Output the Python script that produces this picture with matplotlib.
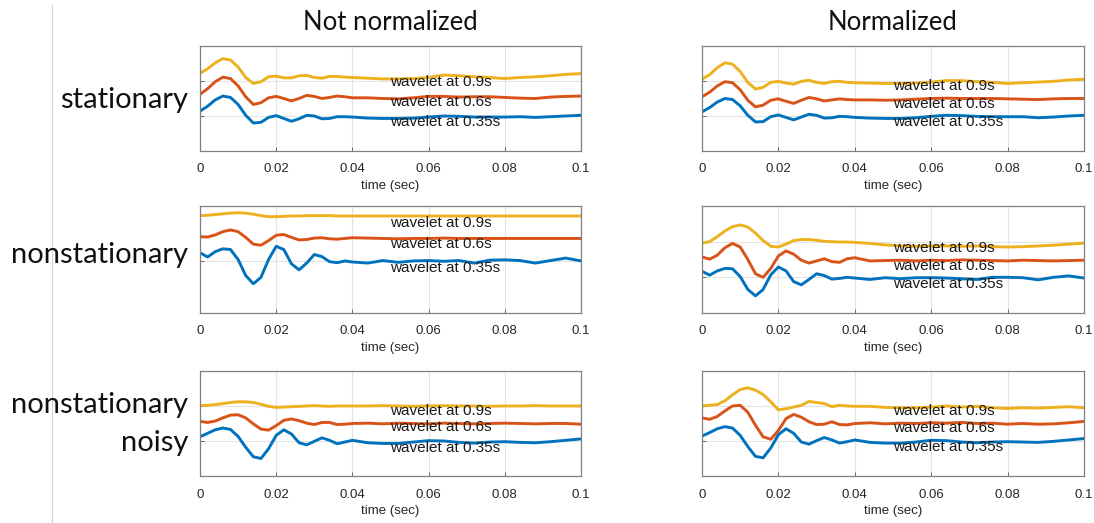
import numpy as np
import matplotlib
matplotlib.use("Agg")
import matplotlib.pyplot as plt
from matplotlib.lines import Line2D

# sample times (sec): fine steps over the main pulse, coarser over the tail
t = np.round(np.concatenate([np.arange(0, 0.0401, 0.002), np.arange(0.044, 0.1001, 0.004)]), 3)

# stationary, not normalized
stat_raw_09 = [2.22, 2.35, 2.52, 2.64, 2.60, 2.40, 2.10, 1.93, 1.98, 2.12, 2.14, 2.09, 2.09, 2.15, 2.16, 2.10, 2.08, 2.13, 2.13, 2.11, 2.10,
               2.08, 2.06, 2.06, 2.07, 2.10, 2.17, 2.15, 2.12, 2.10, 2.07, 2.10, 2.12, 2.15, 2.19, 2.21]
stat_raw_06 = [1.62, 1.78, 1.98, 2.11, 2.07, 1.86, 1.55, 1.33, 1.38, 1.52, 1.56, 1.50, 1.43, 1.50, 1.59, 1.56, 1.50, 1.53, 1.57, 1.55, 1.52,
               1.52, 1.50, 1.49, 1.52, 1.56, 1.56, 1.54, 1.55, 1.55, 1.53, 1.51, 1.50, 1.54, 1.56, 1.57]
stat_raw_035 = [1.14, 1.28, 1.46, 1.57, 1.53, 1.33, 1.02, 0.80, 0.82, 0.96, 1.01, 0.93, 0.85, 0.92, 1.02, 1.00, 0.92, 0.93, 0.98, 0.98, 0.97,
                0.94, 0.93, 0.93, 0.94, 0.97, 1.00, 0.99, 0.97, 0.97, 0.97, 0.98, 0.96, 0.98, 1.00, 1.02]

# stationary, normalized
stat_norm_09 = [2.05, 2.18, 2.38, 2.52, 2.48, 2.27, 1.96, 1.77, 1.82, 1.96, 1.99, 1.94, 1.91, 1.99, 2.02, 1.96, 1.93, 1.98, 1.99, 1.96, 1.95,
                1.94, 1.93, 1.93, 1.94, 1.97, 2.01, 2.01, 1.98, 1.96, 1.93, 1.95, 1.97, 1.99, 2.03, 2.05]
stat_norm_06 = [1.55, 1.68, 1.86, 1.98, 1.95, 1.75, 1.45, 1.26, 1.31, 1.45, 1.49, 1.42, 1.36, 1.45, 1.53, 1.49, 1.43, 1.46, 1.49, 1.47, 1.46,
                1.46, 1.45, 1.46, 1.48, 1.50, 1.51, 1.50, 1.50, 1.50, 1.49, 1.48, 1.47, 1.49, 1.50, 1.50]
stat_norm_035 = [1.12, 1.24, 1.40, 1.50, 1.47, 1.29, 1.02, 0.83, 0.84, 0.98, 1.03, 0.96, 0.89, 0.97, 1.05, 1.02, 0.94, 0.95, 0.99, 0.98, 0.96,
                 0.94, 0.93, 0.93, 0.95, 0.99, 1.02, 1.01, 0.99, 0.98, 0.98, 0.98, 0.95, 0.97, 1.00, 1.02]

# nonstationary, not normalized
nonst_raw_09 = [2.73, 2.74, 2.76, 2.78, 2.80, 2.81, 2.80, 2.77, 2.73, 2.70, 2.70, 2.71, 2.72, 2.72, 2.73, 2.73, 2.73, 2.73, 2.72, 2.72, 2.72,
                2.72, 2.72, 2.72, 2.72, 2.72, 2.72, 2.72, 2.72, 2.72, 2.72, 2.72, 2.72, 2.72, 2.72, 2.72]
nonst_raw_06 = [2.14, 2.13, 2.19, 2.28, 2.33, 2.28, 2.12, 1.93, 1.90, 2.03, 2.18, 2.20, 2.12, 2.05, 2.06, 2.10, 2.11, 2.08, 2.07, 2.09, 2.11,
                2.10, 2.09, 2.08, 2.09, 2.09, 2.10, 2.09, 2.09, 2.09, 2.09, 2.09, 2.09, 2.09, 2.09, 2.09]
nonst_raw_035 = [1.69, 1.57, 1.72, 1.80, 1.78, 1.50, 1.05, 0.82, 1.00, 1.50, 1.87, 1.78, 1.38, 1.21, 1.40, 1.64, 1.58, 1.44, 1.41, 1.46, 1.43,
                 1.40, 1.47, 1.42, 1.46, 1.47, 1.45, 1.47, 1.40, 1.48, 1.49, 1.47, 1.40, 1.47, 1.54, 1.46]

# nonstationary, normalized
nonst_norm_09 = [1.96, 2.00, 2.14, 2.30, 2.42, 2.47, 2.41, 2.24, 2.03, 1.87, 1.85, 1.93, 2.03, 2.06, 2.06, 2.04, 2.01, 2.00, 1.99, 1.99, 1.98,
                 1.95, 1.91, 1.88, 1.87, 1.88, 1.88, 1.87, 1.88, 1.86, 1.85, 1.86, 1.88, 1.90, 1.93, 1.96]
nonst_norm_06 = [1.57, 1.51, 1.62, 1.83, 1.95, 1.85, 1.50, 1.10, 1.00, 1.25, 1.60, 1.74, 1.65, 1.48, 1.40, 1.46, 1.52, 1.44, 1.42, 1.52, 1.55,
                 1.46, 1.47, 1.48, 1.46, 1.48, 1.47, 1.49, 1.48, 1.47, 1.46, 1.48, 1.47, 1.46, 1.47, 1.48]
nonst_norm_035 = [1.17, 1.06, 1.18, 1.25, 1.24, 1.02, 0.66, 0.48, 0.66, 1.07, 1.29, 1.18, 0.88, 0.79, 0.94, 1.10, 1.05, 0.95, 0.97, 1.00, 0.98,
                  0.94, 0.99, 0.96, 0.99, 0.99, 0.98, 0.96, 0.94, 1.00, 1.00, 0.99, 0.93, 1.00, 1.04, 0.98]

# nonstationary + noise, not normalized
noisy_raw_09 = [2.01, 2.02, 2.04, 2.07, 2.10, 2.12, 2.12, 2.10, 2.05, 1.99, 1.96, 1.97, 1.98, 1.99, 2.00, 2.01, 2.00, 1.99, 2.00, 2.00, 2.00,
                2.00, 2.01, 2.00, 1.99, 2.00, 2.01, 2.00, 2.00, 1.99, 2.00, 2.00, 2.01, 2.00, 2.00, 2.00]
noisy_raw_06 = [1.56, 1.53, 1.57, 1.66, 1.74, 1.75, 1.66, 1.49, 1.34, 1.31, 1.44, 1.59, 1.63, 1.58, 1.51, 1.47, 1.53, 1.53, 1.47, 1.48, 1.50,
                1.51, 1.49, 1.51, 1.50, 1.49, 1.51, 1.50, 1.49, 1.50, 1.51, 1.50, 1.49, 1.50, 1.50, 1.48]
noisy_raw_035 = [1.12, 1.22, 1.32, 1.37, 1.33, 1.13, 0.82, 0.55, 0.50, 0.78, 1.16, 1.32, 1.20, 0.95, 0.89, 0.99, 1.09, 1.02, 0.92, 0.97, 1.02,
                 0.95, 0.93, 0.93, 0.97, 1.01, 1.00, 0.96, 0.94, 0.97, 0.98, 0.96, 0.95, 0.98, 1.02, 1.06]

# nonstationary + noise, normalized
noisy_norm_09 = [2.00, 2.02, 2.04, 2.15, 2.32, 2.47, 2.52, 2.45, 2.33, 2.12, 1.89, 1.92, 1.97, 2.02, 2.13, 2.10, 2.07, 1.98, 2.02, 2.00, 1.99,
                 1.99, 1.96, 1.95, 1.95, 1.97, 2.00, 1.97, 1.99, 1.95, 1.93, 1.95, 1.94, 1.96, 1.98, 1.95]
noisy_norm_06 = [1.66, 1.62, 1.70, 1.86, 2.00, 2.02, 1.82, 1.45, 1.12, 1.05, 1.30, 1.64, 1.76, 1.68, 1.55, 1.47, 1.48, 1.55, 1.47, 1.46, 1.50,
                 1.52, 1.49, 1.51, 1.50, 1.52, 1.51, 1.53, 1.50, 1.51, 1.48, 1.50, 1.48, 1.49, 1.52, 1.56]
noisy_norm_035 = [1.14, 1.24, 1.35, 1.41, 1.37, 1.16, 0.84, 0.56, 0.52, 0.80, 1.18, 1.35, 1.22, 0.97, 0.91, 1.01, 1.10, 1.03, 0.94, 0.98, 1.03,
                  0.96, 0.94, 0.94, 0.97, 1.02, 1.01, 0.97, 0.95, 0.97, 0.98, 0.97, 0.96, 0.99, 1.03, 1.07]

wavelet_names = ["wavelet at 0.9s", "wavelet at 0.6s", "wavelet at 0.35s"]
col_names = ["Not normalized", "Normalized"]
# row captions, one entry per text line
row_lines = ["stationary", "nonstationary", "nonstationary", "noisy"]

panels = [
    [(stat_raw_09, stat_raw_06, stat_raw_035), (stat_norm_09, stat_norm_06, stat_norm_035)],
    [(nonst_raw_09, nonst_raw_06, nonst_raw_035), (nonst_norm_09, nonst_norm_06, nonst_norm_035)],
    [(noisy_raw_09, noisy_raw_06, noisy_raw_035), (noisy_norm_09, noisy_norm_06, noisy_norm_035)],
]
# where the "wavelet at ..." labels sit in each panel
label_y = [
    [(1.98, 1.41, 0.84), (1.86, 1.34, 0.84)],
    [(2.53, 1.93, 1.25), (1.82, 1.33, 0.82)],
    [(1.87, 1.39, 0.81), (1.85, 1.38, 0.84)],
]
ytick_pos = [
    [[1, 2], [1, 2]],
    [[1.46], [1, 2]],
    [[1, 2], [1, 2]],
]

colors = ["#EDB120", "#D95319", "#0072BD"]

W, H = 1094, 523
fig = plt.figure(figsize=(W / 100, H / 100), dpi=100)

col_left = [200, 702]
col_width = [381, 382]
row_top = [46, 206, 371]
row_height = [105, 107, 105]

for r in range(3):
    for c in range(2):
        ax = fig.add_axes([col_left[c] / W, 1 - (row_top[r] + row_height[r]) / H,
                           col_width[c] / W, row_height[r] / H])
        for series, color in zip(panels[r][c], colors):
            ax.plot(t, series, color=color, lw=2.1, solid_capstyle="round",
                    solid_joinstyle="round")
        for name, y in zip(wavelet_names, label_y[r][c]):
            ax.text(0.05, y, name, fontsize=11, va="center", ha="left",
                    family="Liberation Sans", color="#1a1a1a")
        ax.set_xlim(0, 0.1)
        ax.set_ylim(0, 3)
        ax.set_xticks([0, 0.02, 0.04, 0.06, 0.08, 0.1])
        ax.set_xticklabels(["0", "0.02", "0.04", "0.06", "0.08", "0.1"])
        ax.set_yticks(ytick_pos[r][c])
        ax.set_yticklabels([])
        ax.grid(True, color="#e3e3e3", lw=0.8)
        ax.set_axisbelow(True)
        ax.tick_params(direction="in", length=3, width=0.7, colors="#666666",
                       labelcolor="#262626", labelsize=9.5, pad=9)
        for lbl in ax.get_xticklabels():
            lbl.set_family("Liberation Sans")
        for s in ax.spines.values():
            s.set_color("#808080")
            s.set_linewidth(0.9)
        ax.set_xlabel("time (sec)", fontsize=9.5, family="Liberation Sans",
                      color="#262626", labelpad=3)

for c, name in enumerate(col_names):
    fig.text((col_left[c] + col_width[c] / 2) / W, 1 - 23 / H, name, fontsize=18.5,
             family="Lato", ha="center", va="center", color="#111111")

row_line_y = [100, 255, 405, 443]
for name, y in zip(row_lines, row_line_y):
    fig.text(188 / W, 1 - y / H, name, fontsize=21, family="Lato",
             ha="right", va="center", color="#111111")

# thin divider on the far left
fig.add_artist(Line2D([51.7 / W, 51.7 / W], [0, 1 - 5 / H], color="#d4d4d4", lw=0.8))

fig.savefig("out.png", dpi=100)
